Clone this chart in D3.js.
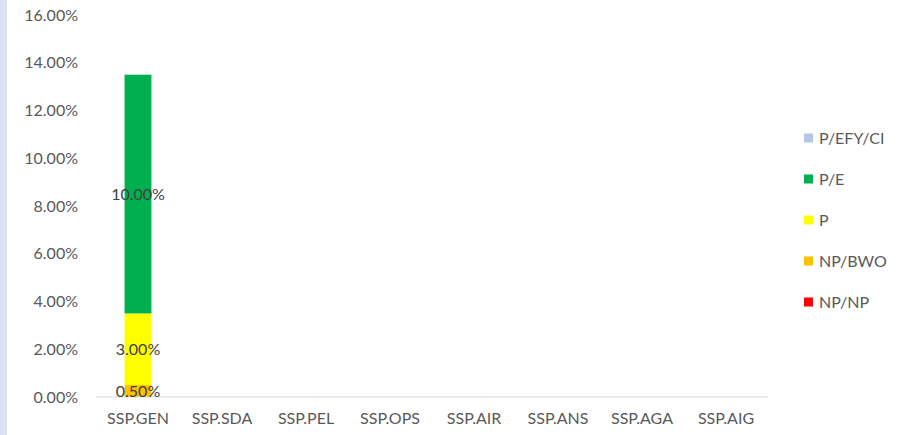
<!DOCTYPE html>
<html>
<head>
<meta charset="utf-8">
<script src="https://cdn.jsdelivr.net/npm/d3@7"></script>
<style>
  body { margin: 0; background: #fff; }
  text { font-family: Lato, 'Open Sans', sans-serif; }
</style>
</head>
<body>
<div id="chart"></div>
<script>
const categories = ['SSP.GEN', 'SSP.SDA', 'SSP.PEL', 'SSP.OPS', 'SSP.AIR', 'SSP.ANS', 'SSP.AGA', 'SSP.AIG'];
const seriesNames = ['NP/NP', 'NP/BWO', 'P', 'P/E', 'P/EFY/CI'];
const seriesColors = ['#ff0000', '#ffc000', '#ffff00', '#00b050', '#b4c7e7'];
// values in % per category, one array per series
const npnp = [0, 0, 0, 0, 0, 0, 0, 0];
const npbwo = [0.5, 0, 0, 0, 0, 0, 0, 0];
const p = [3, 0, 0, 0, 0, 0, 0, 0];
const pe = [10, 0, 0, 0, 0, 0, 0, 0];
const pefyci = [0, 0, 0, 0, 0, 0, 0, 0];
const yTicks = [0, 2, 4, 6, 8, 10, 12, 14, 16];

const width = 904, height = 435;
const margin = { top: 15, bottom: 38, left: 96, right: 136 };
const fontSize = '16px';

const svg = d3.select('#chart').append('svg')
  .attr('width', width)
  .attr('height', height);

svg.append('rect').attr('x', 0).attr('y', 0).attr('width', 7).attr('height', height).attr('fill', '#dde3f3');

const x = d3.scaleBand().domain(categories).range([margin.left, width - margin.right]).paddingInner(0.68).paddingOuter(0.34);
const y = d3.scaleLinear().domain([0, 16]).range([height - margin.bottom, margin.top]);

const rows = categories.map((c, i) => ({
  cat: c,
  'NP/NP': npnp[i], 'NP/BWO': npbwo[i], 'P': p[i], 'P/E': pe[i], 'P/EFY/CI': pefyci[i]
}));
const stacked = d3.stack().keys(seriesNames)(rows);

// y axis labels
const yAxis = svg.append('g').attr('transform', `translate(${margin.left - 18},0)`)
  .call(d3.axisLeft(y).tickValues(yTicks).tickFormat(d => d.toFixed(2) + '%').tickSize(0).tickPadding(0));
yAxis.select('.domain').remove();
yAxis.selectAll('text').attr('fill', '#595959').style('font-size', fontSize);

// bars
stacked.forEach((s, k) => {
  svg.append('g').selectAll('rect').data(s.filter(d => d[1] - d[0] > 0)).enter().append('rect')
    .attr('x', d => x(d.data.cat))
    .attr('width', x.bandwidth())
    .attr('y', d => y(d[1]))
    .attr('height', d => y(d[0]) - y(d[1]))
    .attr('fill', seriesColors[k]);
});

// baseline
svg.append('line')
  .attr('x1', margin.left).attr('x2', width - margin.right)
  .attr('y1', y(0)).attr('y2', y(0))
  .attr('stroke', '#d9d9d9').attr('stroke-width', 1);

// data labels
stacked.forEach(s => {
  svg.append('g').selectAll('text').data(s.filter(d => d[1] - d[0] > 0)).enter().append('text')
    .attr('x', d => x(d.data.cat) + x.bandwidth() / 2)
    .attr('y', d => (y(d[0]) + y(d[1])) / 2)
    .attr('dy', '0.35em')
    .attr('text-anchor', 'middle')
    .attr('fill', '#404040')
    .style('font-size', fontSize)
    .text(d => (d[1] - d[0]).toFixed(2) + '%');
});

// x axis labels
const xAxis = svg.append('g').attr('transform', `translate(0,${y(0) + 16})`)
  .call(d3.axisBottom(x).tickSize(0).tickPadding(0));
xAxis.select('.domain').remove();
xAxis.selectAll('text').attr('fill', '#595959').style('font-size', fontSize);

// legend
const legendOrder = ['P/EFY/CI', 'P/E', 'P', 'NP/BWO', 'NP/NP'];
const legend = svg.append('g').selectAll('g').data(legendOrder).enter().append('g')
  .attr('transform', (d, i) => `translate(804,${138 + i * 41})`);
legend.append('rect').attr('x', 0).attr('y', -4.5).attr('width', 9).attr('height', 9)
  .attr('fill', d => seriesColors[seriesNames.indexOf(d)]);
legend.append('text').attr('x', 15).attr('y', 0).attr('dy', '0.35em')
  .attr('fill', '#595959').style('font-size', fontSize).text(d => d);
</script>
</body>
</html>
